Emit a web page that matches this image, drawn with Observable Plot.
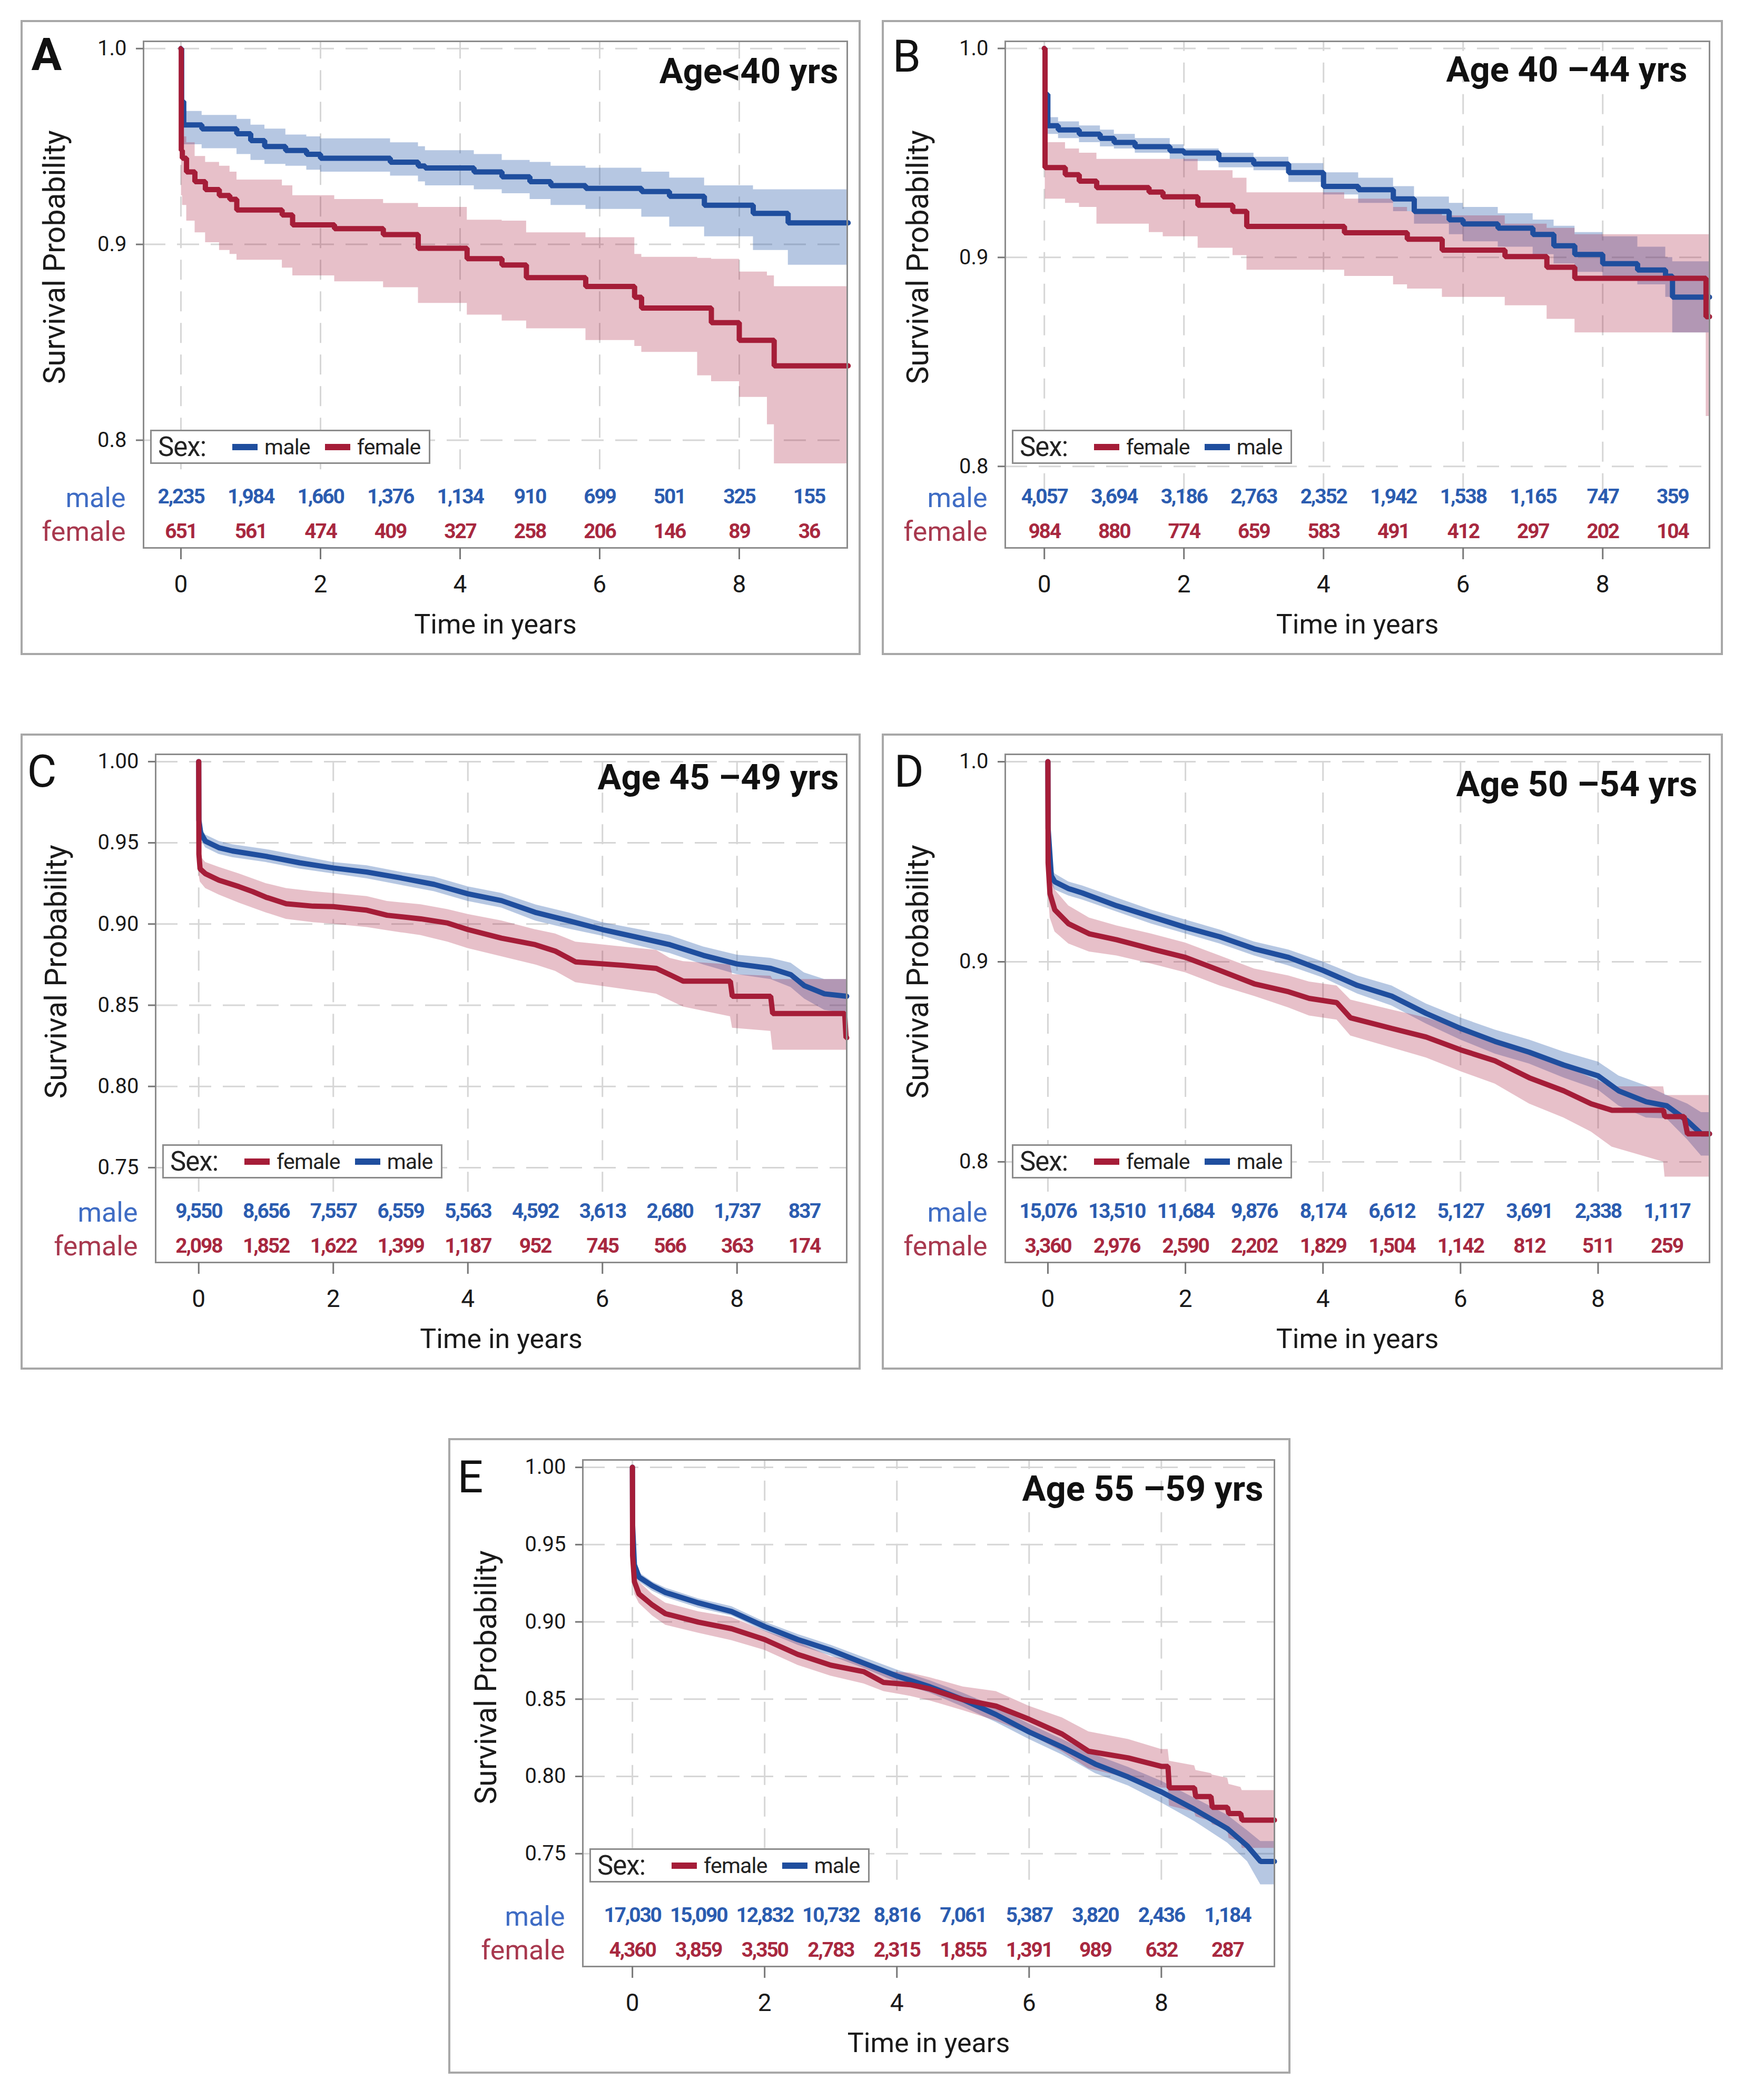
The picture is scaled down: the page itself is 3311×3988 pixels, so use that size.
<!DOCTYPE html>
<html>
<head>
<meta charset="utf-8">
<script src="https://cdn.jsdelivr.net/npm/d3@7"></script>
<script src="https://cdn.jsdelivr.net/npm/@observablehq/plot@0.6"></script>
<style>
  body { margin: 0; background: #fff; }
  #page { position: relative; width: 3311px; height: 3988px; background: #fff; font-family: Roboto, "Noto Sans", sans-serif; }
  .panel { position: absolute; }
  .box { position: absolute; box-sizing: border-box; border: 4px solid #a8a8a8; pointer-events: none; }
  .legend { position: absolute; box-sizing: border-box; border: 3px solid #8c8c8c; background: #fff;
            display: flex; align-items: center; padding-left: 12px; color: #222; white-space: nowrap; }
  .legend .hdr { font-size: 51px; margin-right: 50px; letter-spacing: -1px; }
  .legend .sw { width: 48px; height: 12px; margin-right: 13px; }
  .legend .lab { font-size: 41px; margin-right: 28px; letter-spacing: -0.8px; }
</style>
</head>
<body>
<div id="page"></div>
<script>
// ---------- data: [time, survival, lowerCI, upperCI] ----------
// Panels A and B are drawn as step functions; C, D, E (many small steps) as traced polylines.
const A_male = [
  [0,1,1,1],[0.01,0.973,0.962,0.982],[0.04,0.961,0.951,0.968],[0.3,0.959,0.949,0.966],
  [0.8,0.9565,0.946,0.964],[1.0,0.953,0.943,0.961],[1.2,0.950,0.941,0.959],[1.5,0.948,0.940,0.956],
  [1.8,0.946,0.938,0.955],[2.0,0.944,0.937,0.954],[3.0,0.942,0.935,0.952],[3.4,0.940,0.932,0.950],
  [3.5,0.939,0.930,0.948],[4.2,0.937,0.928,0.946],[4.6,0.9345,0.926,0.943],[5.0,0.932,0.923,0.942],
  [5.3,0.930,0.920,0.940],[5.8,0.9286,0.918,0.939],[6.6,0.927,0.914,0.937],[7.0,0.9246,0.909,0.934],
  [7.5,0.920,0.904,0.930],[8.2,0.9158,0.897,0.928],[8.7,0.911,0.8895,0.928],[9.56,0.911,0.8895,0.928]
];
const A_female = [
  [0,1,1,1],[0.005,0.948,0.925,0.96],[0.02,0.944,0.92,0.955],[0.08,0.937,0.912,0.952],
  [0.2,0.932,0.906,0.945],[0.35,0.928,0.901,0.942],[0.55,0.925,0.897,0.940],[0.7,0.923,0.895,0.937],
  [0.8,0.9176,0.892,0.933],[1.45,0.915,0.888,0.930],[1.6,0.910,0.884,0.925],[2.2,0.908,0.881,0.923],
  [2.9,0.905,0.878,0.921],[3.4,0.898,0.870,0.919],[4.1,0.8927,0.864,0.9125],[4.6,0.8895,0.861,0.912],
  [4.95,0.883,0.857,0.906],[5.8,0.8785,0.851,0.9035],[6.5,0.873,0.848,0.895],[6.6,0.8675,0.845,0.8935],
  [7.4,0.8675,0.833,0.893],[7.6,0.860,0.830,0.8925],[8.0,0.851,0.822,0.886],[8.4,0.851,0.808,0.884],
  [8.5,0.838,0.788,0.8785],[9.56,0.838,0.788,0.8785]
];
const B_male = [
  [0,1,1,1],[0.01,0.978,0.97,0.985],[0.05,0.963,0.959,0.967],[0.2,0.961,0.957,0.965],
  [0.5,0.959,0.955,0.963],[0.8,0.957,0.953,0.961],[1.0,0.955,0.952,0.959],[1.3,0.953,0.950,0.957],
  [1.8,0.951,0.947,0.954],[2.0,0.950,0.946,0.952],[2.5,0.9468,0.943,0.950],[3.0,0.9447,0.9416,0.948],
  [3.5,0.9406,0.936,0.945],[4.0,0.934,0.930,0.9406],[4.5,0.9324,0.926,0.938],[5.0,0.928,0.922,0.934],
  [5.3,0.922,0.916,0.929],[5.8,0.918,0.911,0.926],[6.0,0.916,0.9076,0.924],[6.5,0.914,0.905,0.921],
  [7.0,0.911,0.9014,0.918],[7.3,0.9056,0.897,0.915],[7.6,0.9014,0.893,0.912],[8.0,0.897,0.889,0.910],
  [8.5,0.894,0.887,0.905],[8.9,0.891,0.881,0.900],[9.0,0.881,0.864,0.898],[9.53,0.881,0.864,0.898]
];
const B_female = [
  [0,1,1,1],[0.01,0.943,0.928,0.955],[0.3,0.9396,0.926,0.952],[0.5,0.9365,0.924,0.950],
  [0.75,0.9334,0.916,0.947],[1.5,0.9313,0.912,0.947],[1.7,0.929,0.910,0.947],[2.2,0.925,0.9045,0.9416],
  [2.7,0.922,0.901,0.938],[2.9,0.9148,0.894,0.931],[4.3,0.9118,0.891,0.928],[5.0,0.9118,0.887,0.924],
  [5.2,0.9087,0.885,0.922],[5.7,0.9035,0.881,0.920],[6.6,0.9004,0.877,0.916],[7.2,0.8953,0.8705,0.914],
  [7.6,0.890,0.864,0.911],[9.48,0.8716,0.824,0.911],[9.53,0.8716,0.824,0.911]
];
const C_male = [
  [0,1,1,1],[0.003,0.964,0.958,0.97],[0.03,0.956,0.952,0.96],[0.1,0.951,0.947,0.955],
  [0.3,0.947,0.943,0.951],[0.5,0.945,0.941,0.949],[1.0,0.9417,0.938,0.946],[1.5,0.9377,0.934,0.942],
  [2.0,0.9345,0.931,0.938],[2.5,0.932,0.928,0.936],[3.0,0.9284,0.924,0.932],[3.5,0.9244,0.920,0.929],
  [4.0,0.9186,0.914,0.923],[4.5,0.9144,0.910,0.919],[5.0,0.9072,0.902,0.912],[5.5,0.902,0.897,0.907],
  [6.0,0.8966,0.8926,0.901],[6.5,0.892,0.887,0.897],[7.0,0.8873,0.882,0.893],[7.5,0.8807,0.875,0.886],
  [8.0,0.8754,0.869,0.881],[8.5,0.8727,0.866,0.879],[8.8,0.8688,0.861,0.876],[9.0,0.862,0.854,0.870],
  [9.3,0.857,0.847,0.866],[9.63,0.8555,0.845,0.866]
];
const C_female = [
  [0,1,1,1],[0.003,0.943,0.93,0.952],[0.02,0.934,0.926,0.942],[0.1,0.931,0.922,0.938],
  [0.3,0.927,0.918,0.935],[0.6,0.923,0.913,0.931],[0.8,0.920,0.910,0.928],[1.0,0.9165,0.907,0.925],
  [1.3,0.9125,0.903,0.922],[1.7,0.911,0.901,0.920],[2.0,0.9107,0.900,0.919],[2.5,0.9085,0.898,0.917],
  [2.8,0.9054,0.896,0.914],[3.3,0.9032,0.893,0.912],[3.7,0.9006,0.889,0.909],[4.0,0.8966,0.885,0.906],
  [4.5,0.8913,0.880,0.902],[5.0,0.8873,0.875,0.8966],[5.3,0.8833,0.871,0.894],[5.6,0.8767,0.864,0.889],
  [6.3,0.8746,0.860,0.886],[6.8,0.8727,0.857,0.884],[7.0,0.8688,0.853,0.879],[7.2,0.8648,0.849,0.877],
  [7.9,0.8648,0.843,0.875],[7.93,0.8555,0.836,0.869],[8.5,0.8555,0.834,0.868],[8.53,0.8449,0.8224,0.866],
  [9.6,0.8449,0.8224,0.866],[9.62,0.830,0.8224,0.866],[9.63,0.830,0.8224,0.866]
];
const D_male = [
  [0,1,1,1],[0.003,0.9667,0.96,0.972],[0.05,0.943,0.939,0.947],[0.1,0.940,0.936,0.944],
  [0.3,0.9366,0.933,0.940],[0.5,0.9344,0.931,0.938],[1.0,0.928,0.925,0.932],[1.5,0.9226,0.919,0.926],
  [2.0,0.9172,0.914,0.921],[2.5,0.9125,0.909,0.916],[3.0,0.9065,0.903,0.910],[3.5,0.9022,0.898,0.906],
  [4.0,0.8957,0.892,0.900],[4.5,0.8882,0.884,0.893],[5.0,0.8828,0.878,0.888],[5.5,0.8742,0.869,0.879],
  [6.0,0.8667,0.861,0.872],[6.5,0.8602,0.854,0.866],[7.0,0.8548,0.849,0.861],[7.5,0.8484,0.842,0.855],
  [8.0,0.843,0.836,0.850],[8.3,0.8355,0.828,0.843],[8.7,0.830,0.822,0.838],[9.0,0.828,0.8215,0.8333],
  [9.3,0.8204,0.811,0.829],[9.5,0.814,0.803,0.8247],[9.62,0.814,0.803,0.8247]
];
const D_female = [
  [0,1,1,1],[0.003,0.9495,0.935,0.96],[0.03,0.934,0.922,0.945],[0.1,0.926,0.915,0.936],
  [0.3,0.919,0.909,0.928],[0.6,0.914,0.905,0.922],[1.0,0.911,0.903,0.918],[1.5,0.9065,0.899,0.914],
  [2.0,0.9022,0.8946,0.9095],[2.5,0.8957,0.888,0.903],[3.0,0.889,0.8828,0.8965],[3.5,0.885,0.877,0.893],
  [3.8,0.8817,0.873,0.890],[4.2,0.8796,0.871,0.888],[4.4,0.872,0.863,0.881],[5.0,0.8667,0.857,0.876],
  [5.5,0.8624,0.852,0.872],[6.0,0.856,0.8452,0.8667],[6.5,0.8505,0.839,0.861],[7.0,0.842,0.829,0.8538],
  [7.5,0.8355,0.822,0.848],[7.9,0.829,0.815,0.842],[8.2,0.8258,0.8075,0.8376],[8.95,0.8258,0.800,0.8376],
  [8.97,0.8226,0.7925,0.8333],[9.25,0.8226,0.7925,0.8333],[9.3,0.814,0.7925,0.8333],[9.62,0.814,0.7925,0.8333]
];
const E_male = [
  [0,1,1,1],[0.003,0.9624,0.958,0.966],[0.03,0.937,0.934,0.940],[0.1,0.929,0.926,0.932],
  [0.3,0.9234,0.920,0.926],[0.5,0.919,0.916,0.922],[1.0,0.9123,0.909,0.915],[1.5,0.9067,0.904,0.910],
  [2.0,0.897,0.894,0.900],[2.5,0.8886,0.885,0.892],[3.0,0.8817,0.878,0.885],[3.5,0.8733,0.870,0.877],
  [4.0,0.865,0.861,0.869],[4.5,0.858,0.854,0.862],[5.0,0.8497,0.845,0.854],[5.5,0.840,0.835,0.845],
  [6.0,0.8288,0.824,0.834],[6.5,0.819,0.814,0.824],[7.0,0.808,0.802,0.814],[7.5,0.7996,0.794,0.806],
  [8.0,0.790,0.783,0.797],[8.5,0.7787,0.771,0.786],[9.0,0.7662,0.757,0.775],[9.3,0.755,0.745,0.765],
  [9.5,0.745,0.730,0.758],[9.71,0.745,0.730,0.758]
];
const E_female = [
  [0,1,1,1],[0.003,0.943,0.93,0.952],[0.03,0.926,0.918,0.934],[0.1,0.918,0.912,0.926],
  [0.3,0.911,0.904,0.918],[0.5,0.9053,0.898,0.9123],[1.0,0.8998,0.8928,0.9067],[1.5,0.8956,0.888,0.903],
  [2.0,0.8886,0.8817,0.8942],[2.5,0.879,0.872,0.887],[3.0,0.872,0.865,0.8775],[3.5,0.8678,0.860,0.874],
  [3.8,0.8608,0.855,0.868],[4.2,0.8594,0.852,0.867],[4.5,0.8566,0.849,0.864],[5.0,0.8497,0.8427,0.858],
  [5.5,0.8455,0.836,0.855],[6.0,0.837,0.8274,0.8455],[6.5,0.8274,0.816,0.838],[6.9,0.8163,0.805,0.829],
  [7.5,0.812,0.799,0.824],[8.0,0.8065,0.7926,0.8176],[8.1,0.8065,0.7926,0.8176],[8.12,0.7926,0.781,0.810],
  [8.5,0.7926,0.777,0.807],[8.52,0.787,0.774,0.804],[8.75,0.787,0.771,0.802],[8.77,0.780,0.769,0.801],
  [9.0,0.780,0.766,0.799],[9.02,0.776,0.760,0.795],[9.2,0.776,0.758,0.793],[9.22,0.7717,0.7536,0.791],
  [9.71,0.7717,0.7536,0.791]
];

// ---------- numbers at risk ----------
const riskTimes = [0,1,2,3,4,5,6,7,8,9];
const A_riskMale   = [2235,1984,1660,1376,1134,910,699,501,325,155];
const A_riskFemale = [651,561,474,409,327,258,206,146,89,36];
const B_riskMale   = [4057,3694,3186,2763,2352,1942,1538,1165,747,359];
const B_riskFemale = [984,880,774,659,583,491,412,297,202,104];
const C_riskMale   = [9550,8656,7557,6559,5563,4592,3613,2680,1737,837];
const C_riskFemale = [2098,1852,1622,1399,1187,952,745,566,363,174];
const D_riskMale   = [15076,13510,11684,9876,8174,6612,5127,3691,2338,1117];
const D_riskFemale = [3360,2976,2590,2202,1829,1504,1142,812,511,259];
const E_riskMale   = [17030,15090,12832,10732,8816,7061,5387,3820,2436,1184];
const E_riskFemale = [4360,3859,3350,2783,2315,1855,1391,989,632,287];

// ---------- labels / ticks ----------
const titles = ["Age<40 yrs", "Age 40 \u201344 yrs", "Age 45 \u201349 yrs", "Age 50 \u201354 yrs", "Age 55 \u201359 yrs"];
const letters = ["A", "B", "C", "D", "E"];
const xTicks = [0, 2, 4, 6, 8];
const yTicksWide = [0.8, 0.9, 1.0];
const yTicksFine = [0.75, 0.80, 0.85, 0.90, 0.95, 1.00];
const yLabel = "Survival Probability";
const xLabel = "Time in years";
const legendTitle = "Sex:";
const sexNames = {male: "male", female: "female"};

// ---------- styles ----------
const COL = {
  maleLine: "#1f4e9e", femaleLine: "#a51d38",
  maleBand: "rgb(40,90,170)", femaleBand: "rgb(170,30,60)",
  maleNum: "#2b5cb0", femaleNum: "#a8283f",
  maleLab: "#3f6cc4", femaleLab: "#a8384e",
  grid: "#d6d6d6", frame: "#8c8c8c", axis: "#777", text: "#1a1a1a"
};
const FONT = "Roboto, 'Noto Sans', sans-serif";

// ---------- layout (page px) ----------
const panels = [
  {male: A_male, female: A_female, rm: A_riskMale, rf: A_riskFemale, title: titles[0], letter: letters[0], bold: true, curve: "step-after",
   box: [39, 38, 1595, 1206], frame: [272, 78, 1608, 1040], xd: [-0.536, 9.547], yd: [0.745, 1.0037],
   yt: yTicksWide, fmt: ".1f", gb: 0.785, order: ["male", "female"], ylx: -168, yly: 410, ldx: -213, ldy: 27, tdx: -17, tdy: 58},
  {male: B_male, female: B_female, rm: B_riskMale, rf: B_riskFemale, title: titles[1], letter: letters[1], bold: false, curve: "step-after",
   box: [1674, 38, 1597, 1206], frame: [1908, 78, 3245, 1040], xd: [-0.56, 9.53], yd: [0.761, 1.0034],
   yt: yTicksWide, fmt: ".1f", gb: 0.787, order: ["female", "male"], ylx: -165, yly: 410, ldx: -214, ldy: 30, tdx: -42, tdy: 55},
  {male: C_male, female: C_female, rm: C_riskMale, rf: C_riskFemale, title: titles[2], letter: letters[2], bold: false, curve: "linear",
   box: [39, 1393, 1595, 1208], frame: [295, 1432, 1607, 2397], xd: [-0.64, 9.63], yd: [0.6916, 1.0045],
   yt: yTicksFine, fmt: ".2f", gb: 0.735, order: ["female", "male"], ylx: -188, yly: 413, ldx: -244, ldy: 34, tdx: -15, tdy: 45},
  {male: D_male, female: D_female, rm: D_riskMale, rf: D_riskFemale, title: titles[3], letter: letters[3], bold: false, curve: "linear",
   box: [1674, 1393, 1597, 1208], frame: [1908, 1432, 3245, 2397], xd: [-0.62, 9.62], yd: [0.7497, 1.0037],
   yt: yTicksWide, fmt: ".1f", gb: 0.785, order: ["female", "male"], ylx: -165, yly: 413, ldx: -211, ldy: 34, tdx: -23, tdy: 58},
  {male: E_male, female: E_female, rm: E_riskMale, rf: E_riskFemale, title: titles[4], letter: letters[4], bold: false, curve: "linear",
   box: [851, 2731, 1599, 1207], frame: [1106, 2772, 2419, 3734], xd: [-0.75, 9.71], yd: [0.677, 1.0048],
   yt: yTicksFine, fmt: ".2f", gb: 0.733, order: ["female", "male"], ylx: -183, yly: 413, ldx: -238, ldy: 34, tdx: -21, tdy: 56}
];

const page = document.getElementById("page");
const fmtN = d3.format(",");
const MID = {lineAnchor: "middle"};

for (const p of panels) {
  const [bx, by, bw, bh] = p.box;
  const [fx0, fy0, fx1, fy1] = p.frame;
  const mL = fx0 - bx, mT = fy0 - by, mR = bx + bw - fx1, mB = by + bh - fy1;
  const riskM = riskTimes.map((t, i) => ({t, n: p.rm[i]}));
  const riskF = riskTimes.map((t, i) => ({t, n: p.rf[i]}));
  const X = d => d[0], S = d => d[1], LO = d => d[2], HI = d => d[3];

  const chart = Plot.plot({
    width: bw, height: bh,
    marginLeft: mL, marginTop: mT, marginRight: mR, marginBottom: mB,
    x: {domain: p.xd},
    y: {domain: p.yd},
    style: {fontFamily: FONT, background: "transparent", overflow: "visible", color: COL.text},
    marks: [
      Plot.ruleY(p.yt, {y: d => d, stroke: COL.grid, strokeWidth: 3, strokeDasharray: "42,22"}),
      Plot.ruleX(xTicks, {x: d => d, y1: p.gb, y2: p.yd[1], stroke: COL.grid, strokeWidth: 3, strokeDasharray: "38,22"}),
      Plot.areaY(p.male, {x: X, y1: LO, y2: HI, curve: p.curve, fill: COL.maleBand, fillOpacity: 0.34}),
      Plot.areaY(p.female, {x: X, y1: LO, y2: HI, curve: p.curve, fill: COL.femaleBand, fillOpacity: 0.28}),
      Plot.line(p.male, {x: X, y: S, curve: p.curve, stroke: COL.maleLine, strokeWidth: 10, strokeLinejoin: "miter"}),
      Plot.line(p.female, {x: X, y: S, curve: p.curve, stroke: COL.femaleLine, strokeWidth: 10, strokeLinejoin: "miter"}),
      Plot.frame({stroke: COL.frame, strokeWidth: 3}),
      Plot.axisX({ticks: xTicks, tickSize: 22, tickPadding: 30, fontSize: 46, label: null, stroke: COL.axis, strokeWidth: 3, fill: COL.text}),
      Plot.axisY({ticks: p.yt, tickFormat: d3.format(p.fmt), tickSize: 14, tickPadding: 18, fontSize: 40, label: null, stroke: COL.axis, strokeWidth: 3, fill: COL.text}),
      // numbers at risk
      Plot.text(riskM, {x: "t", text: d => fmtN(d.n), frameAnchor: "bottom", dy: -97, ...MID, fill: COL.maleNum, fontWeight: "bold", fontSize: 39}),
      Plot.text(riskF, {x: "t", text: d => fmtN(d.n), frameAnchor: "bottom", dy: -31, ...MID, fill: COL.femaleNum, fontWeight: "bold", fontSize: 39}),
      Plot.text([sexNames.male], {frameAnchor: "bottom-left", dx: -34, dy: -94, ...MID, textAnchor: "end", fill: COL.maleLab, fontSize: 52}),
      Plot.text([sexNames.female], {frameAnchor: "bottom-left", dx: -34, dy: -30, ...MID, textAnchor: "end", fill: COL.femaleLab, fontSize: 52}),
      // titles and labels
      Plot.text([p.title], {frameAnchor: "top-right", dx: p.tdx, dy: p.tdy, ...MID, textAnchor: "end", fontWeight: "bold", fontSize: 67, fill: "#111"}),
      Plot.text([p.letter], {frameAnchor: "top-left", dx: p.ldx, dy: p.ldy, ...MID, textAnchor: "start", fontWeight: p.bold ? "bold" : "normal", fontSize: 86, fill: "#111"}),
      Plot.text([yLabel], {frameAnchor: "top-left", dx: p.ylx, dy: p.yly, ...MID, textAnchor: "middle", rotate: -90, fontSize: 57, fill: COL.text}),
      Plot.text([xLabel], {frameAnchor: "bottom", dy: 146, ...MID, textAnchor: "middle", fontSize: 52, fill: COL.text})
    ]
  });
  // condense the at-risk numbers a little, as in the reference
  chart.querySelectorAll('g[font-weight="bold"] text').forEach(t => {
    if (/^[\d,]+$/.test(t.textContent)) t.style.letterSpacing = "-2.2px";
  });
  const wrap = document.createElement("div");
  wrap.className = "panel";
  wrap.style.left = bx + "px"; wrap.style.top = by + "px";
  wrap.style.width = bw + "px"; wrap.style.height = bh + "px";
  wrap.appendChild(chart);
  page.appendChild(wrap);

  // legend
  const lg = document.createElement("div");
  lg.className = "legend";
  lg.style.left = (fx0 + 13) + "px";
  lg.style.top = (fy1 - 224) + "px";
  lg.style.height = "65px";
  let html = `<span class="hdr">${legendTitle}</span>`;
  for (const k of p.order) {
    const c = k === "male" ? COL.maleLine : COL.femaleLine;
    html += `<span class="sw" style="background:${c}"></span><span class="lab">${sexNames[k]}</span>`;
  }
  lg.innerHTML = html;
  lg.lastChild.style.marginRight = "16px";
  page.appendChild(lg);

  const box = document.createElement("div");
  box.className = "box";
  box.style.left = bx + "px"; box.style.top = by + "px";
  box.style.width = bw + "px"; box.style.height = bh + "px";
  page.appendChild(box);
}
</script>
</body>
</html>
